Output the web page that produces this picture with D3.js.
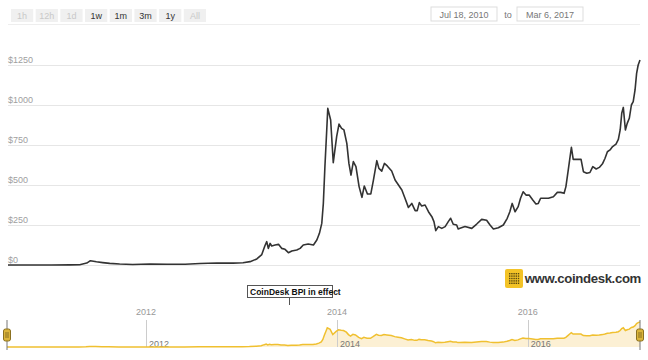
<!DOCTYPE html>
<html><head><meta charset="utf-8">
<script src="https://cdn.jsdelivr.net/npm/d3@7"></script>
<style>
html,body{margin:0;padding:0;background:#fff;}
svg{display:block;font-family:"Liberation Sans",Arial,sans-serif;}
</style></head>
<body>
<svg id="c" width="648" height="360"></svg>
<script>
// ---- data ----
const dates = [
"2010-07-18","2010-10-10","2011-01-01","2011-03-12","2011-04-19","2011-05-16","2011-05-30","2011-06-22","2011-07-16","2011-08-12","2011-09-19","2011-11-08",
"2012-01-13","2012-03-19","2012-05-27","2012-07-23","2012-08-23","2012-09-26","2012-11-27",
"2013-01-04","2013-01-31","2013-02-26","2013-03-17","2013-03-29","2013-04-05","2013-04-11","2013-04-18","2013-04-24","2013-05-07","2013-05-20","2013-06-01","2013-06-14","2013-06-27","2013-07-10","2013-07-29","2013-08-11","2013-08-23","2013-09-11","2013-10-01","2013-10-14","2013-10-24","2013-11-02","2013-11-08","2013-11-14","2013-11-21","2013-11-25","2013-12-06","2013-12-16","2013-12-29",
"2014-01-07","2014-01-17","2014-01-26","2014-02-06","2014-02-14","2014-02-22","2014-03-03","2014-03-13","2014-03-25","2014-04-05","2014-04-14","2014-04-26","2014-05-09","2014-05-19","2014-06-01","2014-06-09","2014-06-20","2014-06-30","2014-07-11","2014-07-28","2014-08-10","2014-08-23","2014-09-05","2014-09-17","2014-09-30","2014-10-13","2014-10-26","2014-11-03","2014-11-11","2014-11-20","2014-12-03","2014-12-16","2014-12-29",
"2015-01-06","2015-01-13","2015-01-23","2015-02-05","2015-02-18","2015-03-02","2015-03-11","2015-03-21","2015-04-03","2015-04-09","2015-04-16","2015-05-05","2015-05-31","2015-06-19","2015-07-08","2015-07-27","2015-08-09","2015-08-22","2015-09-10","2015-09-29","2015-10-14","2015-10-24","2015-11-02","2015-11-13","2015-11-25","2015-12-04","2015-12-14","2015-12-25",
"2016-01-06","2016-01-20","2016-02-01","2016-02-10","2016-02-19","2016-02-29","2016-03-20","2016-04-08","2016-04-23","2016-05-06","2016-05-19","2016-05-26","2016-06-04","2016-06-11","2016-06-16","2016-06-23","2016-07-06","2016-07-23","2016-08-01","2016-08-14","2016-08-26","2016-09-06","2016-09-19","2016-10-01","2016-10-14","2016-10-23","2016-11-01","2016-11-11","2016-11-21","2016-12-04","2016-12-13","2016-12-20","2016-12-26",
"2017-01-01","2017-01-09","2017-01-16","2017-01-24","2017-02-01","2017-02-08","2017-02-15","2017-02-21","2017-02-27","2017-03-06"
];
const prices = [
0.1,0.2,0.3,0.9,2,12,27,20,15,10,6,3,
6,5,5,9,11,12,12,
14,21,38,65,120,146,104,135,119,125,129,104,98,77,88,94,104,125,131,125,156,198,260,385,615,844,979,906,640,802,
881,854,844,760,635,562,646,615,490,423,494,444,444,531,652,604,587,635,619,587,531,500,469,417,360,385,340,340,390,369,375,333,302,
271,215,240,229,240,271,292,255,250,225,229,240,229,256,285,280,250,225,233,250,292,333,385,333,365,417,458,437,
437,406,381,385,417,417,417,427,454,454,448,490,594,677,735,660,660,660,583,573,578,615,600,610,635,667,708,719,740,756,785,844,948,
985,844,885,917,1000,1021,1094,1198,1250,1281
];
const yTicks = [0,250,500,750,1000,1250];
const navYears = [2012,2014,2016];
const rangeButtons = ["1h","12h","1d","1w","1m","3m","1y","All"];
const buttonEnabled = [false,false,false,true,true,true,true,false];
const fromLabel = "Jul 18, 2010", toLabel = "Mar 6, 2017";
const bpiLabel = "CoinDesk BPI in effect", bpiDate = "2013-07-01";
const brand = "www.coindesk.com";

const parse = d3.timeParse("%Y-%m-%d");
const data = dates.map((d,i)=>({date:parse(d), v:prices[i]}));

const svg = d3.select("#c");

// ---- top controls ----
const bx = d3.scaleBand().domain(rangeButtons).range([11,206]).paddingInner(0.1);
const btn = svg.append("g").selectAll("g").data(rangeButtons).join("g")
  .attr("transform", d=>`translate(${bx(d)},9)`);
btn.append("rect").attr("width", bx.bandwidth()).attr("height",13).attr("fill","#f0f0f0");
btn.append("text").attr("x", bx.bandwidth()/2).attr("y",9.5).attr("text-anchor","middle")
  .attr("font-size",9).attr("fill",(d,i)=>buttonEnabled[i]?"#333":"#c8c8c8").text(d=>d);

const dateBoxes = [{x:431,t:fromLabel},{x:517,t:toLabel}];
const db = svg.append("g").selectAll("g").data(dateBoxes).join("g").attr("transform",d=>`translate(${d.x},7)`);
db.append("rect").attr("width",66).attr("height",14).attr("fill","#fff").attr("stroke","#ddd");
db.append("text").attr("x",33).attr("y",10.5).attr("text-anchor","middle").attr("font-size",9).attr("fill","#777").text(d=>d.t);
svg.append("text").attr("x",508).attr("y",17.5).attr("text-anchor","middle").attr("font-size",9).attr("fill","#777").text("to");
svg.append("line").attr("x1",8).attr("x2",640).attr("y1",24.5).attr("y2",24.5).attr("stroke","#eee");

// ---- main chart ----
const x = d3.scaleTime().domain([parse("2010-07-18"), parse("2017-03-06")]).range([8,640]);
const y = d3.scaleLinear().domain([0,1250]).range([265,65]);

const grid = svg.append("g").selectAll("g").data(yTicks).join("g");
grid.append("line").attr("x1",8).attr("x2",640).attr("y1",d=>Math.round(y(d))+0.5).attr("y2",d=>Math.round(y(d))+0.5)
  .attr("stroke","#e6e6e6");
grid.append("text").attr("x",8).attr("y",d=>y(d)-2.5).attr("font-size",9).attr("fill","#a0a0a0").text(d=>"$"+d);

svg.append("path").datum(data)
  .attr("d", d3.line().x(d=>x(d.date)).y(d=>y(d.v)))
  .attr("fill","none").attr("stroke","#333").attr("stroke-width",1.6).attr("stroke-linejoin","round");

// ---- brand ----
const logo = svg.append("g").attr("transform","translate(505,269)");
logo.append("rect").attr("width",18).attr("height",19).attr("rx",2).attr("fill","#f3c327");
for(let r=0;r<5;r++)for(let c=0;c<5;c++){
  logo.append("rect").attr("x",4+c*2.2).attr("y",4+r*2.4).attr("width",1.4).attr("height",1.4).attr("fill","#5a4a10");
}
svg.append("text").attr("x",641).attr("y",283).attr("text-anchor","end").attr("font-size",13.2)
  .attr("fill","#333").attr("font-weight","bold").attr("letter-spacing",-0.35).text(brand);

// ---- navigator ----
const nx = d3.scaleTime().domain(x.domain()).range([7,640]);
const ny = d3.scaleLinear().domain([0,1281]).range([347,322]);

svg.append("path").datum(data)
  .attr("d", d3.area().x(d=>nx(d.date)).y0(347).y1(d=>ny(d.v)))
  .attr("fill","#fcf0d4");

const years = navYears.map(yv=>new Date(yv,0,1));
const ng = svg.append("g").selectAll("g").data(years).join("g");
ng.append("line").attr("x1",d=>Math.round(nx(d))+0.5).attr("x2",d=>Math.round(nx(d))+0.5).attr("y1",320).attr("y2",347).attr("stroke","#ccc");
ng.append("text").attr("x",d=>nx(d)).attr("y",315).attr("text-anchor","middle").attr("font-size",9).attr("fill","#999").text(d=>d.getFullYear());

svg.append("path").datum(data)
  .attr("d", d3.line().x(d=>nx(d.date)).y(d=>ny(d.v)))
  .attr("fill","none").attr("stroke","#f0c030").attr("stroke-width",1.5);

ng.append("text").attr("x",d=>nx(d)+3).attr("y",346.5).attr("font-size",9).attr("fill","#777").text(d=>d.getFullYear());

// handles
const handles = [nx.range()[0], nx.range()[1]];
const hg = svg.append("g").selectAll("g").data(handles).join("g").attr("transform",d=>`translate(${d},0)`);
hg.append("line").attr("x1",0).attr("x2",0).attr("y1",320).attr("y2",350).attr("stroke","#777");
hg.append("rect").attr("x",-3.5).attr("y",329).attr("width",7).attr("height",12).attr("rx",2)
  .attr("fill","#dcb53a").attr("stroke","#8a7020");
hg.append("line").attr("x1",-1).attr("x2",-1).attr("y1",332).attr("y2",338).attr("stroke","#8a7020");
hg.append("line").attr("x1",1).attr("x2",1).attr("y1",332).attr("y2",338).attr("stroke","#8a7020");

// BPI flag
const fx = nx(parse(bpiDate));
svg.append("line").attr("x1",Math.round(fx)+0.5).attr("x2",Math.round(fx)+0.5).attr("y1",297).attr("y2",305).attr("stroke","#555");
svg.append("rect").attr("x",247.5).attr("y",285.5).attr("width",85).attr("height",12).attr("fill","#fff").attr("stroke","#555");
svg.append("text").attr("x",250).attr("y",294.5).attr("font-size",8.5).attr("font-weight","bold").attr("fill","#111").text(bpiLabel);
</script>
</body></html>
